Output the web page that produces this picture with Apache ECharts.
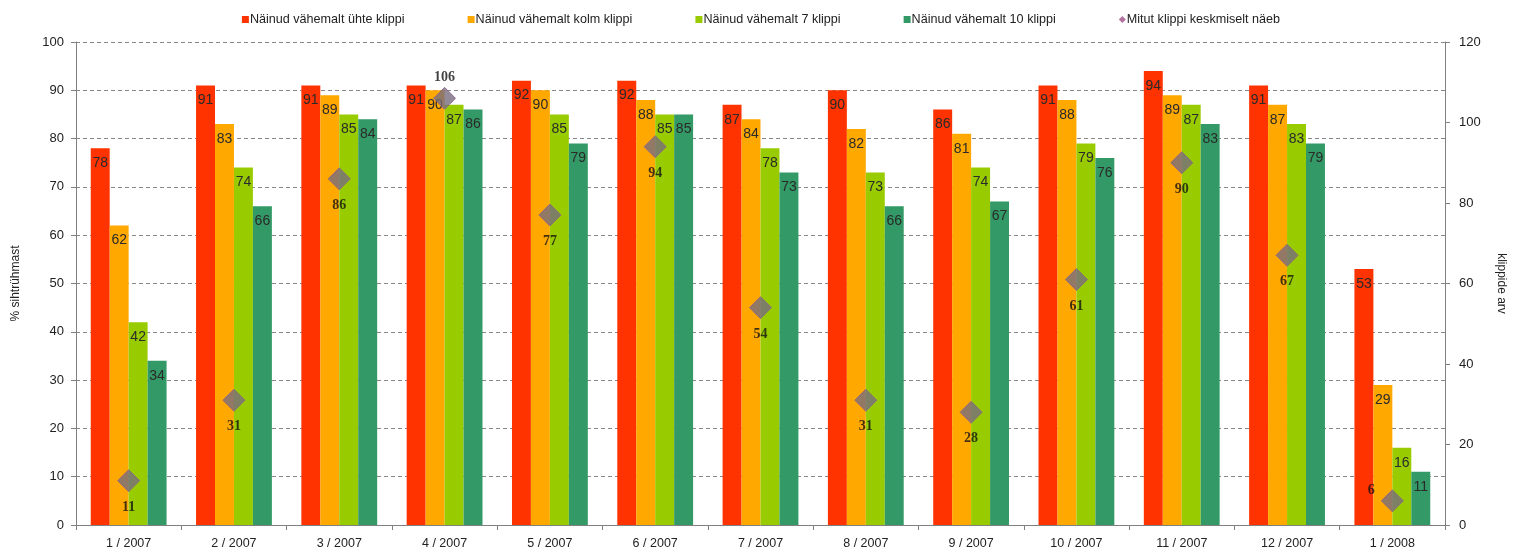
<!DOCTYPE html>
<html>
<head>
<meta charset="utf-8">
<script src="https://cdn.jsdelivr.net/npm/echarts@6/dist/echarts.min.js"></script>
<style>
  html, body { margin: 0; padding: 0; background: #fff; }
  #chart { width: 1522px; height: 557px; }
</style>
</head>
<body>
<div id="chart"></div>
<script>
// Monthly reach of the clip campaign
const categories = ['1 / 2007', '2 / 2007', '3 / 2007', '4 / 2007', '5 / 2007', '6 / 2007', '7 / 2007',
  '8 / 2007', '9 / 2007', '10 / 2007', '11 / 2007', '12 / 2007', '1 / 2008'];

const seenAtLeastOne   = [78, 91, 91, 91, 92, 92, 87, 90, 86, 91, 94, 91, 53];
const seenAtLeastThree = [62, 83, 89, 90, 90, 88, 84, 82, 81, 88, 89, 87, 29];
const seenAtLeastSeven = [42, 74, 85, 87, 85, 85, 78, 73, 74, 79, 87, 83, 16];
const seenAtLeastTen   = [34, 66, 84, 86, 79, 85, 73, 66, 67, 76, 83, 79, 11];
const avgClipsSeen     = [11, 31, 86, 106, 77, 94, 54, 31, 28, 61, 90, 67, 6];

const seriesNames = [
  'Näinud vähemalt ühte klippi',
  'Näinud vähemalt kolm klippi',
  'Näinud vähemalt 7 klippi',
  'Näinud vähemalt 10 klippi',
  'Mitut klippi keskmiselt näeb'
];
const barColors = ['#ff3300', '#ffa800', '#99cc00', '#339966'];
const barData = [seenAtLeastOne, seenAtLeastThree, seenAtLeastSeven, seenAtLeastTen];

const font = 'Liberation Sans, Arial, sans-serif';

const barSeries = barData.map((vals, i) => ({
  name: seriesNames[i],
  type: 'bar',
  yAxisIndex: 0,
  data: vals,
  barGap: '0%',
  barCategoryGap: '28%',
  itemStyle: { color: barColors[i] },
  label: {
    show: true,
    position: 'insideTop',
    distance: 8,
    color: '#2a2a2a',
    fontFamily: font,
    fontSize: 14
  },
  z: 2
}));

// per-point label placement for the average line
const avgPoints = avgClipsSeen.map((v, i) => {
  const p = { value: v };
  if (i === 3) p.label = { position: 'top', distance: 2 };
  if (i === 12) p.label = { position: 'left', distance: 6, offset: [0, -10] };
  return p;
});

const chart = echarts.init(document.getElementById('chart'));
chart.setOption({
  animation: false,
  backgroundColor: '#fff',
  textStyle: { fontFamily: font },
  legend: {
    top: 8,
    left: 'center',
    itemWidth: 7,
    itemHeight: 7,
    itemGap: 63,
    textStyle: { fontFamily: font, fontSize: 12.6, color: '#222', padding: [0, 0, 0, -4] },
    data: [
      { name: seriesNames[0], icon: 'rect' },
      { name: seriesNames[1], icon: 'rect' },
      { name: seriesNames[2], icon: 'rect' },
      { name: seriesNames[3], icon: 'rect' },
      { name: seriesNames[4], icon: 'diamond', itemStyle: { color: '#a0508a', borderWidth: 0 } }
    ]
  },
  grid: { left: 76, right: 77, top: 42, bottom: 32 },
  xAxis: {
    type: 'category',
    data: categories,
    boundaryGap: true,
    axisLine: { lineStyle: { color: '#808080' } },
    axisTick: { show: true, length: 5, lineStyle: { color: '#808080' } },
    axisLabel: { color: '#222', fontFamily: font, fontSize: 12.5, margin: 12 }
  },
  yAxis: [
    {
      type: 'value',
      min: 0, max: 100, interval: 10,
      name: '% sihtrühmast',
      nameLocation: 'middle',
      nameGap: 54,
      nameTextStyle: { color: '#222', fontFamily: font, fontSize: 12 },
      axisLine: { show: true, lineStyle: { color: '#808080' } },
      axisTick: { show: true, length: 5, lineStyle: { color: '#808080' } },
      axisLabel: { color: '#222', fontFamily: font, fontSize: 13, margin: 12 },
      splitLine: { show: true, lineStyle: { color: '#888', type: [4, 3], width: 1 } }
    },
    {
      type: 'value',
      min: 0, max: 120, interval: 20,
      name: 'klippide arv',
      nameLocation: 'middle',
      nameRotate: -90,
      nameGap: 50,
      nameTextStyle: { color: '#222', fontFamily: font, fontSize: 12 },
      axisLine: { show: true, lineStyle: { color: '#808080' } },
      axisTick: { show: true, length: 5, lineStyle: { color: '#808080' } },
      axisLabel: { color: '#222', fontFamily: font, fontSize: 13, margin: 14 },
      splitLine: { show: false }
    }
  ],
  series: [
    ...barSeries,
    {
      name: seriesNames[4],
      type: 'scatter',
      yAxisIndex: 1,
      data: avgPoints,
      symbol: 'diamond',
      symbolSize: [22, 22],
      itemStyle: { color: '#776d80', borderColor: '#8c5f8c', borderWidth: 1 },
      label: {
        show: true,
        position: 'bottom',
        distance: 8,
        color: '#111',
        fontFamily: 'Liberation Serif, Times New Roman, serif',
        fontWeight: 'bold',
        fontSize: 14
      },
      z: 5
    }
  ]
});
</script>
</body>
</html>
